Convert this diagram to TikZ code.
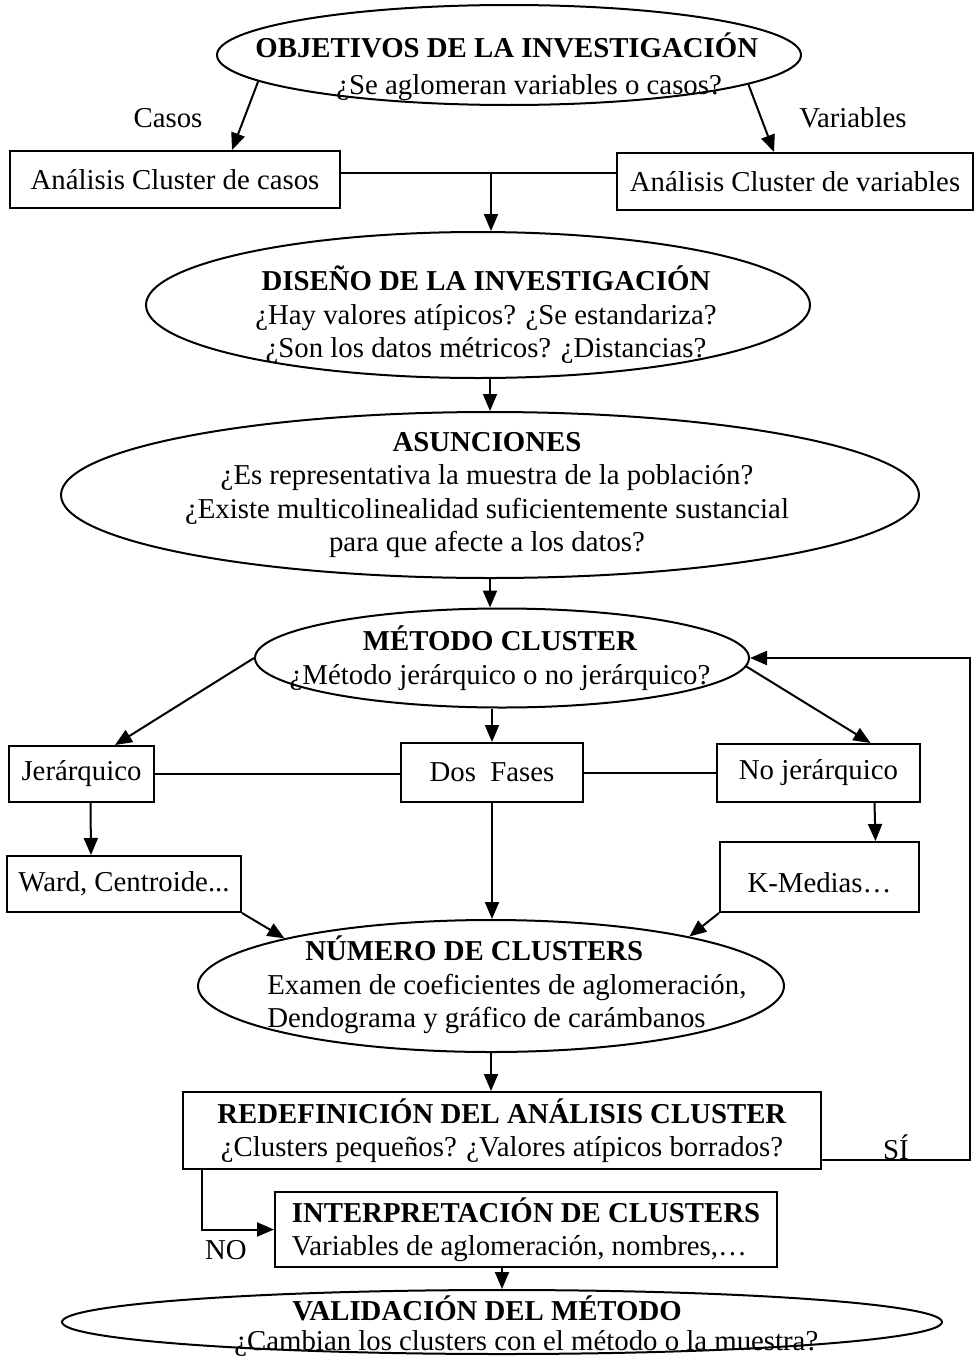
\documentclass[tikz,border=0pt]{standalone}
\usepackage{fontspec}
\setmainfont{Liberation Serif}
\usetikzlibrary{arrows.meta,shapes.geometric}
\newcommand{\fs}{\fontsize{14.4}{16.75}\selectfont}
\tikzset{
  box/.style={draw, line width=1pt, inner sep=0pt, align=center, font=\fs},
  oval/.style={draw, ellipse, line width=1pt, inner sep=0pt},
  txt/.style={inner sep=0pt, align=center, font=\fs},
  lbl/.style={inner sep=0pt, font=\fs},
  fl/.style={-{Triangle[length=8.5pt, width=7pt]}, line width=1pt},
  ln/.style={line width=1pt},
}

\begin{document}
\begin{tikzpicture}[x=0.5pt, y=-0.5pt]
  \useasboundingbox (0,0) rectangle (975,1360);
  % ovals (text is laid on top)
  \node[oval, minimum width=292pt, minimum height=50pt] (obj) at (509,55) {};
  \node[oval, minimum width=332pt, minimum height=73pt] (dis) at (478,305) {};
  \node[oval, minimum width=429pt, minimum height=83pt] (asu) at (490,495) {};
  \node[oval, minimum width=247pt, minimum height=49.5pt] (met) at (502,658) {};
  \node[oval, minimum width=293pt, minimum height=66pt] (num) at (491,986) {};
  \node[oval, minimum width=440pt, minimum height=32pt] (val) at (502,1322) {};
  \node[txt, align=left, anchor=west] (objtxt) at (255,67)
    {\textbf{OBJETIVOS DE LA INVESTIGACIÓN}\\[2pt]\hspace*{40.5pt}¿Se aglomeran variables o casos?};
  \node[txt] (distxt) at (486,315)
    {\textbf{DISEÑO DE LA INVESTIGACIÓN}\\¿Hay valores atípicos? ¿Se estandariza?\\¿Son los datos métricos? ¿Distancias?};
  \node[txt] (asutxt) at (487,495)
    {\textbf{ASUNCIONES}\\¿Es representativa la muestra de la población?\\¿Existe multicolinealidad suficientemente sustancial\\para que afecte a los datos?};
  \node[txt] (mettxt) at (500,658)
    {\textbf{MÉTODO CLUSTER}\\¿Método jerárquico o no jerárquico?};
  \node[txt, align=left, anchor=west] (numtxt) at (267,985)
    {\hspace*{19pt}\textbf{NÚMERO DE CLUSTERS}\\Examen de coeficientes de aglomeración,\\Dendograma y gráfico de carámbanos};
  \node[txt, align=left, anchor=west] (valtxt) at (234,1326)
    {\hspace*{29pt}\textbf{VALIDACIÓN DEL MÉTODO}\\[-1.5pt]¿Cambian los clusters con el método o la muestra?};
  % boxes
  \node[box, minimum width=165pt, minimum height=28.5pt] (casos) at (175,179.5) {Análisis Cluster de casos};
  \node[box, minimum width=178pt, minimum height=28.5pt] (vars) at (795,181.5) {Análisis Cluster de variables};
  \node[box, minimum width=72.5pt, minimum height=28pt] (jer) at (81.5,774) {Jerárquico};
  \node[box, minimum width=91pt, minimum height=29.5pt] (dos) at (492,772.5) {Dos\ \ Fases};
  \node[box, minimum width=101.5pt, minimum height=29pt] (nojer) at (818.5,773) {No jerárquico};
  \node[box, minimum width=117pt, minimum height=28pt] (ward) at (124,884) {Ward, Centroide...};
  \node[box, minimum width=99.5pt, minimum height=35pt, text height=18pt, text depth=3pt] (kmed) at (819.5,877) {K-Medias…};
  \node[box, minimum width=319pt, minimum height=38.5pt] (redef) at (502,1130.5)
    {\textbf{REDEFINICIÓN DEL ANÁLISIS CLUSTER}\\¿Clusters pequeños? ¿Valores atípicos borrados?};
  \node[box, align=left, minimum width=251pt, minimum height=37.5pt] (interp) at (526,1229.5)
    {\textbf{INTERPRETACIÓN DE CLUSTERS}\\Variables de aglomeración, nombres,…};
  % labels
  \node[lbl] (casoslbl) at (168,118) {Casos};
  \node[lbl] (varslbl) at (853,118) {Variables};
  \node[lbl] (silbl) at (896,1147) {SÍ};
  \node[lbl] (nolbl) at (226,1250) {NO};
  \coordinate (split) at (491,173);
  \coordinate (back) at (970,1160);
  % connectors
  \draw[fl] (obj.186) -- ([xshift=28.5pt]casos.north);
  \draw[fl] (obj.353) -- ([xshift=-10.5pt]vars.north);
  \draw[ln] (casos.east |- split) -- (vars.west |- split);
  \draw[fl] (split) -- (split |- dis.north);
  \draw[fl] (asu.north |- dis.south) -- (asu.north);
  \draw[fl] (asu.south) -- (asu.south |- met.north);
  \draw[fl] (met.west) -- ([xshift=16.75pt]jer.north);
  \draw[fl] (dos.north |- met.south) -- (dos.north);
  \draw[fl] (met.358) -- ([xshift=26pt]nojer.north);
  \draw[ln] (jer.east) -- (dos.west |- jer.east);
  \draw[ln] (dos.east) -- (nojer.west |- dos.east);
  \draw[fl] ([xshift=4.5pt]jer.south) -- ([xshift=-16.5pt]ward.north);
  \draw[fl] (dos.south) -- (dos.south |- num.north);
  \draw[fl] ([xshift=28pt]nojer.south) -- ([xshift=28pt]kmed.north);
  \draw[fl] (ward.south east) -- (num.167);
  \draw[fl] (kmed.south west) -- (num.14);
  \draw[fl] (num.south) -- (num.south |- redef.north);
  \draw[fl] (redef.east |- back) -- (back) |- (met.east);
  \draw[fl] ([xshift=10pt]redef.south west) |- (interp.west);
  \draw[fl] (val.north |- interp.south) -- (val.north);
\end{tikzpicture}
\end{document}
